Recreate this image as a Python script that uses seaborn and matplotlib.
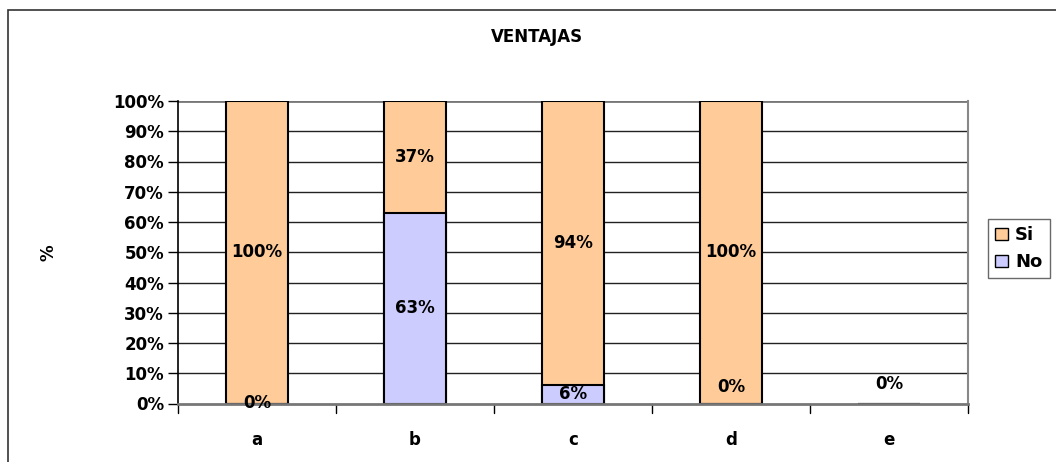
import numpy as np
import pandas as pd
import seaborn as sns
import matplotlib.pyplot as plt
from matplotlib.patches import Rectangle, Patch


# DATA
categorias = ["a", "b", "c", "d", "e"]
si = [100, 37, 94, 100, 0]
no = [0, 63, 6, 0, 0]

df = pd.DataFrame({"cat": categorias, "Si": si, "No": no})
df["total"] = df["Si"] + df["No"]

col_si = "#FFCC99"
col_no = "#CCCCFF"
fs = 12

sns.set_style("white")
plt.rcParams["font.family"] = ["DejaVu Sans"]
plt.rcParams["font.weight"] = "bold"
for k in ["text.color", "axes.labelcolor", "xtick.color", "ytick.color"]:
    plt.rcParams[k] = "black"

fig = plt.figure(figsize=(10.56, 4.62), dpi=100)
ax = fig.add_axes([178 / 1056, 1 - 403.5 / 462, 790 / 1056, 302.5 / 462])

# grid first so bars sit on top
ax.set_ylim(0, 100)
ax.set_yticks(np.arange(0, 101, 10))
for v in np.arange(10, 101, 10):
    ax.axhline(v, color="#222222" if v < 100 else "#777777", lw=1.0 if v < 100 else 2.0, zorder=0)

# stacked bars: total (Si on top) then No at the bottom
sns.barplot(data=df, x="cat", y="total", color=col_si, width=0.39,
            edgecolor="black", linewidth=1.5, saturation=1, ax=ax, zorder=2)
sns.barplot(data=df, x="cat", y="No", color=col_no, width=0.39,
            edgecolor="black", linewidth=1.5, saturation=1, ax=ax, zorder=3)

# value labels
ajuste_no = [0, 0, 0, 5.5, 6.5]
for i, c in enumerate(categorias):
    n = df["No"][i]
    s = df["Si"][i]
    if c != "e":
        ax.text(i, n + s / 2, f"{s}%", ha="center", va="center", fontsize=fs,
                fontweight="bold", zorder=5)
    ax.text(i, n / 2 + ajuste_no[i], f"{n}%", ha="center", va="center", fontsize=fs,
            fontweight="bold", zorder=5)

ax.set_xlim(-0.5, 4.5)
ax.set_yticklabels([f"{v}%" for v in range(0, 101, 10)], fontsize=fs, fontweight="bold")
ax.set_xticks(range(len(categorias)))
ax.set_xticklabels(categorias, fontsize=fs, fontweight="bold")
ax.tick_params(axis="x", length=0, pad=20)
ax.tick_params(axis="y", left=True, length=7, width=1, color="black", pad=3)

# category boundary ticks under x axis
for b in np.arange(-0.5, 5, 1):
    ax.plot([b, b], [0, -3], color="black", lw=1, clip_on=False, zorder=4)

ax.set_xlabel("")
ax.set_ylabel("%", fontsize=fs, fontweight="bold")
ax.yaxis.set_label_coords((58 - 178) / 790, 0.5)

for side in ["left", "bottom"]:
    ax.spines[side].set_color("black")
    ax.spines[side].set_linewidth(1.2)
ax.spines["right"].set_color("#888888")
ax.spines["right"].set_linewidth(1.5)
ax.spines["top"].set_visible(False)
ax.spines["bottom"].set_color("#777777")
ax.spines["bottom"].set_linewidth(2)
ax.spines["bottom"].set_zorder(4)

fig.text(537 / 1056, 1 - 37 / 462, "VENTAJAS", ha="center", va="center",
         fontsize=fs, fontweight="bold")

handles = [Patch(facecolor=col_si, edgecolor="black", label="Si"),
           Patch(facecolor=col_no, edgecolor="black", label="No")]
fig.legend(handles=handles, loc="upper left", bbox_to_anchor=(988 / 1056, 1 - 219 / 462),
           frameon=True, fancybox=False, edgecolor="#444444", fontsize=fs + 1,
           handlelength=0.7, handleheight=0.7, handletextpad=0.4,
           borderpad=0.4, labelspacing=0.5, borderaxespad=0)

# outer chart frame
fig.patches.append(Rectangle((8 / 1056, -0.1), 1.2, 1.1 - 10 / 462, transform=fig.transFigure,
                             fill=False, edgecolor="#333333", lw=1.2, clip_on=False))

fig.savefig("out.png", dpi=100)
plt.close(fig)
